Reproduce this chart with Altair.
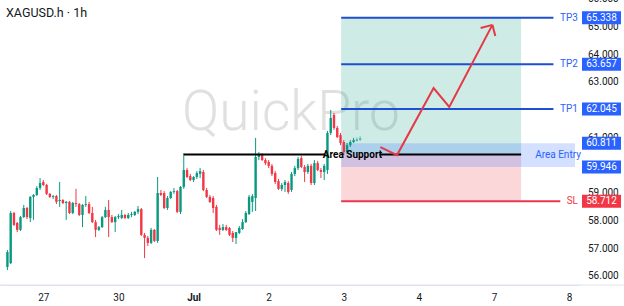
import altair as alt
import pandas as pd

# ---------------- data ----------------
# hourly bar index (0 = first bar of 27 Jun); 23 bars per trading day
bar_index = list(range(-11, 98))
open_ = [56.34, 56.48, 58.29, 57.93, 57.68, 58.14, 58.47, 58.11, 58.87, 58.94,
         59.19, 59.41, 59.30, 58.98, 58.87, 58.90, 58.72, 58.76, 58.65, 58.69,
         58.29, 58.65, 58.61, 58.22, 58.58, 58.61, 58.29, 57.96, 57.68, 57.78,
         58.14, 58.40, 58.14, 57.96, 58.14, 58.11, 58.22, 58.11, 58.22, 58.22,
         58.33, 58.43, 57.50, 57.39, 57.21, 57.68, 57.28, 59.01, 59.01, 58.47,
         58.83, 59.05, 59.08, 58.33, 59.23, 59.84, 59.62, 59.48, 59.59, 59.70,
         59.77, 59.12, 58.87, 58.83, 58.51, 57.75, 57.68, 57.78, 57.75, 57.57,
         57.39, 57.57, 57.71, 57.96, 58.25, 58.69, 58.83, 60.31, 60.38, 60.20,
         60.13, 59.99, 59.73, 59.44, 59.16, 59.30, 59.37, 59.12, 59.70, 59.91,
         60.27, 59.95, 59.77, 59.99, 59.37, 60.09, 59.84, 59.77, 59.84, 61.18,
         61.83, 61.36, 61.10, 60.85, 60.49, 60.74, 60.85, 60.89, 60.92]
high = [56.95, 58.36, 58.33, 57.96, 58.18, 58.58, 58.51, 58.90, 58.97, 59.26,
        59.55, 59.48, 59.34, 59.01, 58.94, 58.94, 59.41, 58.79, 58.72, 58.72,
        58.69, 59.16, 58.65, 58.61, 58.90, 58.69, 58.51, 58.04, 57.82, 58.18,
        58.51, 58.76, 58.22, 58.18, 58.25, 58.40, 58.25, 58.29, 58.33, 58.36,
        58.54, 58.47, 57.57, 57.46, 57.75, 57.71, 59.59, 59.12, 59.08, 58.90,
        59.08, 59.19, 59.12, 59.26, 60.45, 59.91, 59.70, 59.62, 59.80, 59.91,
        59.84, 59.19, 58.94, 58.90, 58.58, 57.86, 57.89, 57.86, 57.78, 57.64,
        57.46, 57.82, 58.07, 58.36, 58.94, 58.97, 61.00, 60.49, 60.45, 60.27,
        60.20, 60.06, 59.80, 59.52, 59.37, 59.48, 59.44, 59.77, 59.99, 60.31,
        60.35, 60.02, 60.06, 60.06, 60.20, 60.17, 59.91, 60.06, 61.25, 62.01,
        61.90, 61.43, 61.18, 60.92, 60.82, 60.92, 61.00, 61.03, 61.07]
low = [56.23, 56.45, 57.82, 57.60, 57.64, 58.11, 58.07, 57.96, 58.04, 58.90,
       59.12, 59.26, 58.94, 58.83, 58.79, 58.61, 58.51, 58.61, 58.04, 58.25,
       58.25, 58.51, 58.18, 57.78, 58.51, 58.25, 57.93, 57.42, 57.64, 57.75,
       58.11, 57.42, 57.93, 57.60, 58.07, 58.07, 58.07, 58.07, 58.14, 58.18,
       58.25, 57.46, 56.66, 57.10, 57.17, 57.24, 57.21, 58.90, 58.43, 58.40,
       58.79, 58.98, 58.29, 58.25, 59.16, 59.55, 59.44, 59.41, 59.52, 59.55,
       59.08, 58.83, 58.65, 58.29, 57.64, 57.50, 57.64, 57.64, 57.46, 57.24,
       57.17, 57.53, 57.68, 57.93, 58.22, 58.33, 58.36, 60.20, 60.17, 60.02,
       59.91, 59.62, 59.34, 59.12, 59.08, 59.05, 58.98, 59.05, 59.62, 59.84,
       59.91, 59.41, 59.70, 59.30, 59.30, 59.80, 59.55, 59.48, 59.70, 61.10,
       61.29, 61.00, 60.74, 60.38, 60.42, 60.67, 60.82, 60.85, 60.89]
close = [56.88, 58.29, 57.86, 57.68, 58.14, 58.47, 58.14, 58.87, 58.94, 59.19,
         59.37, 59.30, 58.98, 58.87, 58.90, 58.69, 58.76, 58.65, 58.69, 58.29,
         58.65, 58.61, 58.22, 58.58, 58.61, 58.29, 57.96, 57.68, 57.78, 58.14,
         58.40, 58.14, 57.96, 58.14, 58.18, 58.22, 58.11, 58.22, 58.25, 58.33,
         58.43, 57.50, 57.39, 57.21, 57.68, 57.28, 59.01, 58.94, 58.47, 58.83,
         59.05, 59.08, 58.33, 59.23, 59.84, 59.59, 59.48, 59.59, 59.73, 59.80,
         59.12, 58.87, 58.69, 58.47, 57.68, 57.68, 57.78, 57.68, 57.50, 57.39,
         57.60, 57.75, 57.96, 58.29, 58.87, 58.90, 60.31, 60.42, 60.20, 60.09,
         59.99, 59.70, 59.41, 59.16, 59.30, 59.41, 59.05, 59.70, 59.91, 60.24,
         59.95, 59.77, 59.99, 59.37, 60.09, 59.84, 59.77, 59.99, 61.18, 61.72,
         61.36, 61.03, 60.82, 60.49, 60.74, 60.85, 60.92, 60.96, 61.00]
ghost = [0] * 107 + [1, 1]

day_ticks = [0, 23, 46, 69, 92, 115, 138, 161]
day_labels = ["27", "30", "Jul", "2", "3", "4", "7", "8"]

# price-scale labels that are visible (60 and 62 sit fully under price tags)
price_ticks = [56, 57, 58, 59, 61, 63, 64, 65, 66]

tp_names = ["TP3", "TP2", "TP1"]
tp_prices = [65.338, 63.657, 62.045]
entry_high = 60.811
entry_low = 59.946
sl_price = 58.712
support_price = 60.40

tag_prices = [65.338, 63.657, 62.045, 60.811, 59.946, 58.712]
tag_texts = ["65.338", "63.657", "62.045", "60.811", "59.946", "58.712"]
tag_colors = ["#2962ff"] * 5 + ["#f23645"]

# drawing anchors (bar index units)
zone_start, zone_end, band_end = 91.2, 146.3, 162.8
support_start, gap_start, gap_end = 43.0, 86.4, 102.9
tp_line_end, sl_line_end = 156.2, 158.3

arrow_i = [103.2, 108.3, 119.5, 124.3, 137.5]
arrow_price = [60.67, 60.38, 62.80, 62.12, 65.08]
wing_i = [133.9, 138.4]
wing_price = [64.97, 64.68]

# ---------------- chart ----------------
W, H = 580, 285
xs = alt.Scale(domain=[-11.74, 162.8], nice=False, zero=False)
ys = alt.Scale(domain=[55.69, 65.978], nice=False, zero=False)


def X(f):
    return alt.X(f, scale=xs, title=None)


def Y(f):
    return alt.Y(f, scale=ys, title=None)


label_expr = " : ".join(
    f"datum.value == {t} ? '{l}'" for t, l in zip(day_ticks, day_labels)
) + " : ''"

x_axis = alt.Axis(values=day_ticks, labelExpr=label_expr, title=None, grid=False,
                  ticks=False, domain=True, domainColor="#e0e3eb", domainWidth=1,
                  labelFontSize=10, labelColor="#131722", labelPadding=7,
                  labelFlush=False, labelOverlap=False, labelFont="Roboto",
                  labelFontWeight={"condition": {"test": "datum.value == 46", "value": "bold"},
                                   "value": "normal"})
y_axis = alt.Axis(orient="right", title=None, grid=False, ticks=False, domain=False,
                  labels=False)

bars = pd.DataFrame({"i": bar_index, "open": open_, "high": high, "low": low,
                     "close": close, "ghost": ghost})
up_color = alt.condition("datum.close >= datum.open", alt.value("#089981"), alt.value("#f23645"))
op = alt.condition("datum.ghost == 1", alt.value(0.45), alt.value(1.0))

one = pd.DataFrame({"k": [0]})

# invisible layer that carries both axes (first, so its settings win)
axis_layer = alt.Chart(bars).mark_rule(opacity=0).encode(
    x=alt.X("i:Q", scale=xs, axis=x_axis),
    y=alt.Y("low:Q", scale=ys, axis=y_axis), y2="high:Q")

# price scale labels on the right, placed through the y scale
price_labels = alt.Chart(pd.DataFrame({"p": price_ticks})).transform_calculate(
    lab="format(datum.p, '.3f')").mark_text(
    font="Roboto", fontSize=10, color="#131722", align="left", baseline="middle").encode(
    x=alt.value(588), y=Y("p:Q"), text="lab:N")

watermark = alt.Chart(one).mark_text(
    text="QuickPro", font="Roboto", fontSize=55, fontWeight=300, color="#e0e0e0",
    align="center", baseline="alphabetic").encode(x=alt.value(291), y=alt.value(130))

title = alt.Chart(one).mark_text(
    text="XAGUSD.h · 1h", font="Roboto", fontSize=12.5, color="#131722",
    align="left", baseline="middle").encode(x=alt.value(6), y=alt.value(13))

zones = pd.DataFrame({
    "x1": [zone_start, zone_start, zone_start],
    "x2": [zone_end, zone_end, band_end],
    "y1": [support_price, sl_price, entry_low],
    "y2": [tp_prices[0], support_price, entry_high],
    "fill": ["#089981", "#f23645", "#2962ff"],
    "op": [0.2, 0.2, 0.2],
})
zone_layer = alt.Chart(zones).mark_rect().encode(
    x=X("x1:Q"), x2="x2:Q", y=Y("y1:Q"), y2="y2:Q",
    color=alt.Color("fill:N", scale=None), opacity=alt.Opacity("op:Q", scale=None))

wicks = alt.Chart(bars).mark_rule(strokeWidth=1).encode(
    x=X("i:Q"), y=Y("low:Q"), y2="high:Q", color=up_color, opacity=op)
bodies = alt.Chart(bars).mark_bar(size=2.4).encode(
    x=X("i:Q"), y=Y("open:Q"), y2="close:Q", color=up_color, opacity=op)

support = pd.DataFrame({"x1": [support_start, gap_end], "x2": [gap_start, zone_end],
                        "p": [support_price, support_price]})
support_layer = alt.Chart(support).mark_rule(color="#000000", strokeWidth=2).encode(
    x=X("x1:Q"), x2="x2:Q", y=Y("p:Q"))
support_text = alt.Chart(pd.DataFrame({"t": ["Area Support"], "p": [support_price],
                                       "x": [(gap_start + gap_end) / 2]})).mark_text(
    font="Roboto", fontSize=10, fontWeight="bold", color="#000000",
    align="center", baseline="middle").encode(x=X("x:Q"), y=Y("p:Q"), text="t:N")

levels = pd.DataFrame({
    "name": tp_names + ["SL"],
    "price": tp_prices + [sl_price],
    "x1": [zone_start] * 4,
    "x2": [tp_line_end] * 3 + [sl_line_end],
    "color": ["#1f4fd1"] * 3 + ["#e8384f"],
    "tcolor": ["#2962ff"] * 3 + ["#f23645"],
})
level_lines = alt.Chart(levels).mark_rule(strokeWidth=2).encode(
    x=X("x1:Q"), x2="x2:Q", y=Y("price:Q"), color=alt.Color("color:N", scale=None))
level_text = alt.Chart(levels).mark_text(
    font="Roboto", fontSize=10, align="right", baseline="middle").encode(
    x=alt.value(578), y=Y("price:Q"), text="name:N",
    color=alt.Color("tcolor:N", scale=None))

entry_text = alt.Chart(pd.DataFrame({"t": ["Area Entry"], "p": [support_price]})).mark_text(
    font="Roboto", fontSize=10, align="center", baseline="middle", color="#2962ff").encode(
    x=alt.value(558), y=Y("p:Q"), text="t:N")

arrow = pd.DataFrame({"i": arrow_i, "p": arrow_price, "o": list(range(len(arrow_i)))})
arrow_line = alt.Chart(arrow).mark_line(color="#e53945", strokeWidth=2).encode(
    x=X("i:Q"), y=Y("p:Q"), order="o:Q")
wings = pd.DataFrame({"i": wing_i, "p": wing_price,
                      "ti": [arrow_i[-1]] * 2, "tp": [arrow_price[-1]] * 2})
wing_layer = alt.Chart(wings).mark_rule(color="#e53945", strokeWidth=2).encode(
    x=X("i:Q"), x2="ti:Q", y=Y("p:Q"), y2="tp:Q")

tags = pd.DataFrame({"p": tag_prices, "t": tag_texts, "c": tag_colors})
tag_rect = alt.Chart(tags).transform_calculate(
    lo="datum.p - 0.235", hi="datum.p + 0.235").mark_rect().encode(
    x=alt.value(582), x2=alt.value(621), y=Y("lo:Q"), y2="hi:Q",
    color=alt.Color("c:N", scale=None))
tag_text = alt.Chart(tags).mark_text(
    font="Roboto", fontSize=10, color="white", align="center", baseline="middle").encode(
    x=alt.value(601.5), y=Y("p:Q"), text="t:N")

sep = alt.Chart(one).mark_rule(color="#e0e3eb", strokeWidth=1).encode(
    x=alt.value(0), x2=alt.value(624), y=alt.value(285))

chart = alt.layer(
    axis_layer, watermark, zone_layer, wicks, bodies, support_layer, support_text,
    level_lines, level_text, entry_text, arrow_line, wing_layer,
    price_labels, tag_rect, tag_text, sep, title
).properties(
    width=W, height=H,
    autosize=alt.AutoSizeParams(type="none"),
    padding={"left": 0, "top": 0, "right": 44, "bottom": 21},
    background="white",
).configure_view(stroke=None)

chart.save("out.html", embed_options={"renderer": "svg", "actions": False})
